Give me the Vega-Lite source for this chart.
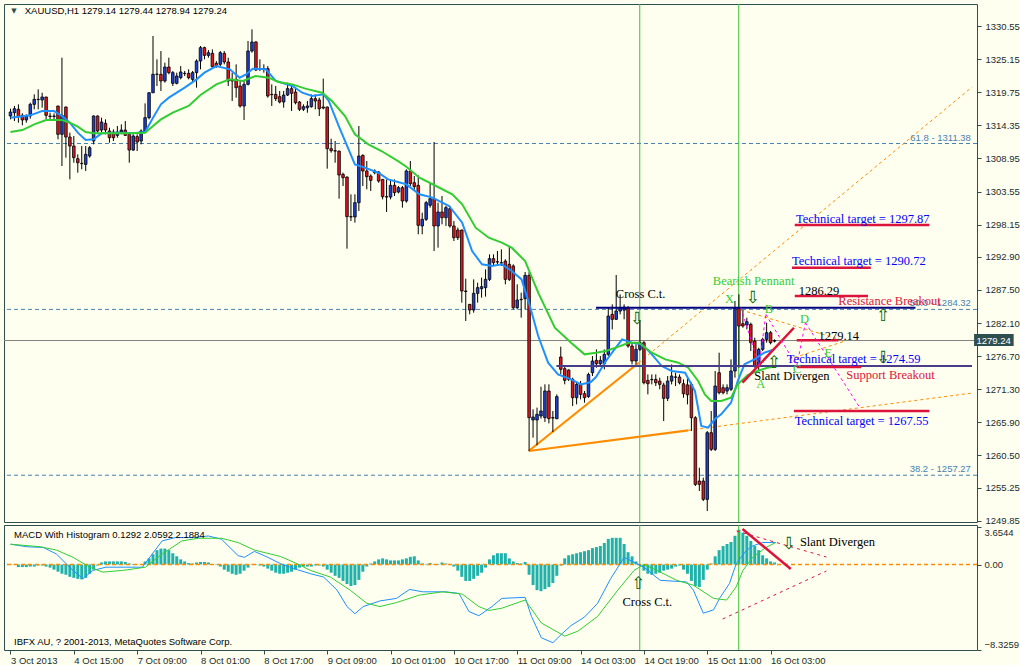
{
"$schema":"https://vega.github.io/schema/vega-lite/v6.json",
"background":"#FFFFF0",
"padding":{"left":2,"top":3,"right":0,"bottom":0},
"bounds":"flush",
"spacing":3,
"config":{"view":{"stroke":"#2F4F4F","strokeWidth":1},"axis":{"labelFont":"Liberation Sans","labelFontSize":9.5,"labelColor":"#1B2B2B","tickColor":"#2F4F4F","tickSize":4,"domain":false,"grid":false,"title":null,"labelPadding":4,"labelOverlap":false}},
"datasets":{
"candles":[
{"i":0,"o":1315.87,"h":1317.06,"l":1315.32,"c":1316.52},{"i":1,"o":1316.41,"h":1317.5,"l":1315.05,"c":1317.06},{"i":2,"o":1316.96,"h":1317.77,"l":1314.78,"c":1315.76},{"i":3,"o":1315.98,"h":1316.3,"l":1314.35,"c":1315.22},{"i":4,"o":1315.22,"h":1316.14,"l":1314.78,"c":1315.87},{"i":5,"o":1315.87,"h":1318.04,"l":1315.43,"c":1317.77},{"i":6,"o":1317.77,"h":1319.4,"l":1316.96,"c":1318.59},{"i":7,"o":1318.59,"h":1320.22,"l":1316.96,"c":1318.55},{"i":8,"o":1318.48,"h":1319.67,"l":1317.23,"c":1318.97},{"i":9,"o":1318.97,"h":1319.0,"l":1315.32,"c":1315.98},
{"i":10,"o":1315.87,"h":1316.41,"l":1315.32,"c":1315.8},{"i":11,"o":1315.8,"h":1316.3,"l":1315.05,"c":1315.87},{"i":12,"o":1317.5,"h":1317.55,"l":1312.06,"c":1312.88},{"i":13,"o":1312.88,"h":1325.38,"l":1307.71,"c":1315.98},{"i":14,"o":1317.34,"h":1317.4,"l":1309.07,"c":1312.44},{"i":15,"o":1312.44,"h":1313.15,"l":1305.54,"c":1310.97},{"i":16,"o":1310.97,"h":1312.61,"l":1308.25,"c":1309.07},{"i":17,"o":1308.91,"h":1309.61,"l":1306.62,"c":1308.25},{"i":18,"o":1308.15,"h":1310.97,"l":1307.17,"c":1308.1},{"i":19,"o":1307.98,"h":1310.97,"l":1306.9,"c":1309.61},
{"i":20,"o":1309.34,"h":1310.97,"l":1309.07,"c":1310.7},{"i":21,"o":1311.79,"h":1315.98,"l":1311.25,"c":1315.87},{"i":22,"o":1315.87,"h":1315.95,"l":1313.15,"c":1313.42},{"i":23,"o":1313.58,"h":1315.6,"l":1313.15,"c":1314.89},{"i":24,"o":1314.67,"h":1315.32,"l":1312.88,"c":1313.58},{"i":25,"o":1313.42,"h":1313.96,"l":1311.52,"c":1312.33},{"i":26,"o":1313.26,"h":1313.69,"l":1311.79,"c":1312.33},{"i":27,"o":1312.71,"h":1314.24,"l":1312.33,"c":1313.26},{"i":28,"o":1313.26,"h":1314.51,"l":1312.88,"c":1313.58},{"i":29,"o":1313.58,"h":1315.05,"l":1312.61,"c":1312.71},
{"i":30,"o":1312.88,"h":1313.26,"l":1308.25,"c":1310.32},{"i":31,"o":1310.32,"h":1312.88,"l":1310.16,"c":1312.61},{"i":32,"o":1312.5,"h":1312.88,"l":1310.16,"c":1311.63},{"i":33,"o":1311.79,"h":1313.69,"l":1311.25,"c":1313.42},{"i":34,"o":1313.26,"h":1317.93,"l":1313.15,"c":1315.6},{"i":35,"o":1315.6,"h":1319.7,"l":1315.32,"c":1319.67},{"i":36,"o":1319.67,"h":1328.92,"l":1319.6,"c":1322.67},{"i":37,"o":1322.67,"h":1325.11,"l":1320.76,"c":1322.7},{"i":38,"o":1322.67,"h":1326.47,"l":1319.95,"c":1321.58},{"i":39,"o":1321.58,"h":1324.57,"l":1321.31,"c":1323.86},
{"i":40,"o":1323.86,"h":1325.38,"l":1322.67,"c":1322.94},{"i":41,"o":1321.2,"h":1323.21,"l":1320.76,"c":1322.94},{"i":42,"o":1321.2,"h":1322.94,"l":1321.03,"c":1322.39},{"i":43,"o":1322.12,"h":1324.02,"l":1321.85,"c":1323.05},{"i":44,"o":1322.83,"h":1323.21,"l":1322.39,"c":1322.8},{"i":45,"o":1322.83,"h":1323.48,"l":1321.85,"c":1322.12},{"i":46,"o":1321.85,"h":1323.21,"l":1321.31,"c":1322.94},{"i":47,"o":1322.94,"h":1325.11,"l":1320.49,"c":1324.84},{"i":48,"o":1324.84,"h":1327.29,"l":1323.48,"c":1327.02},{"i":49,"o":1327.02,"h":1327.18,"l":1325.11,"c":1325.76},
{"i":50,"o":1325.76,"h":1326.63,"l":1325.38,"c":1326.2},{"i":51,"o":1326.09,"h":1326.74,"l":1323.75,"c":1323.92},{"i":52,"o":1324.46,"h":1324.84,"l":1323.75,"c":1323.92},{"i":53,"o":1324.3,"h":1326.47,"l":1324.02,"c":1326.2},{"i":54,"o":1326.09,"h":1326.47,"l":1324.3,"c":1324.68},{"i":55,"o":1324.68,"h":1325.38,"l":1320.76,"c":1321.58},{"i":56,"o":1321.85,"h":1322.94,"l":1318.32,"c":1321.58},{"i":57,"o":1321.85,"h":1324.3,"l":1318.86,"c":1320.49},{"i":58,"o":1320.76,"h":1321.58,"l":1317.23,"c":1317.5},{"i":59,"o":1317.5,"h":1321.58,"l":1315.22,"c":1321.03},
{"i":60,"o":1321.03,"h":1328.1,"l":1320.87,"c":1326.47},{"i":61,"o":1326.47,"h":1330.01,"l":1326.2,"c":1327.94},{"i":62,"o":1327.94,"h":1328.1,"l":1323.21,"c":1323.37},{"i":63,"o":1323.48,"h":1325.11,"l":1323.21,"c":1323.45},{"i":64,"o":1323.59,"h":1324.3,"l":1322.94,"c":1323.55},{"i":65,"o":1323.59,"h":1324.02,"l":1318.86,"c":1319.13},{"i":66,"o":1319.4,"h":1321.03,"l":1317.5,"c":1319.35},{"i":67,"o":1319.4,"h":1320.76,"l":1318.32,"c":1318.7},{"i":68,"o":1319.02,"h":1319.95,"l":1317.93,"c":1318.15},{"i":69,"o":1318.15,"h":1319.95,"l":1317.23,"c":1319.29},
{"i":70,"o":1319.29,"h":1321.31,"l":1319.13,"c":1320.33},{"i":71,"o":1320.33,"h":1320.76,"l":1316.68,"c":1319.57},{"i":72,"o":1319.78,"h":1320.49,"l":1317.77,"c":1318.04},{"i":73,"o":1318.15,"h":1318.32,"l":1316.68,"c":1316.96},{"i":74,"o":1316.96,"h":1317.77,"l":1316.68,"c":1317.39},{"i":75,"o":1317.23,"h":1318.32,"l":1316.41,"c":1317.5},{"i":76,"o":1317.39,"h":1319.4,"l":1317.23,"c":1318.7},{"i":77,"o":1318.7,"h":1319.4,"l":1316.96,"c":1318.32},{"i":78,"o":1318.48,"h":1318.86,"l":1315.87,"c":1317.06},{"i":79,"o":1317.34,"h":1321.96,"l":1316.96,"c":1317.17},
{"i":80,"o":1317.34,"h":1317.4,"l":1307.28,"c":1310.54},{"i":81,"o":1310.54,"h":1312.17,"l":1309.89,"c":1310.21},{"i":82,"o":1310.21,"h":1311.79,"l":1308.25,"c":1310.15},{"i":83,"o":1310.15,"h":1310.21,"l":1302.38,"c":1306.24},{"i":84,"o":1306.35,"h":1306.62,"l":1304.45,"c":1305.81},{"i":85,"o":1305.92,"h":1306.0,"l":1294.23,"c":1299.45},{"i":86,"o":1299.45,"h":1303.09,"l":1298.74,"c":1299.4},{"i":87,"o":1299.4,"h":1303.09,"l":1298.47,"c":1301.73},{"i":88,"o":1301.73,"h":1314.24,"l":1300.37,"c":1309.34},{"i":89,"o":1309.45,"h":1309.61,"l":1304.45,"c":1306.9},
{"i":90,"o":1306.9,"h":1308.53,"l":1303.91,"c":1305.97},{"i":91,"o":1306.08,"h":1306.35,"l":1303.63,"c":1305.37},{"i":92,"o":1306.62,"h":1307.17,"l":1306.35,"c":1306.9},{"i":93,"o":1306.73,"h":1306.9,"l":1304.99,"c":1305.26},{"i":94,"o":1305.53,"h":1305.6,"l":1302.27,"c":1302.71},{"i":95,"o":1302.71,"h":1305.53,"l":1300.21,"c":1302.65},{"i":96,"o":1302.65,"h":1305.53,"l":1302.27,"c":1304.56},{"i":97,"o":1304.56,"h":1305.53,"l":1302.82,"c":1303.36},{"i":98,"o":1303.47,"h":1304.45,"l":1303.25,"c":1304.18},{"i":99,"o":1304.18,"h":1304.45,"l":1300.92,"c":1302.0},
{"i":100,"o":1302.0,"h":1307.17,"l":1301.73,"c":1306.9},{"i":101,"o":1306.9,"h":1308.53,"l":1304.45,"c":1304.83},{"i":102,"o":1304.99,"h":1306.08,"l":1303.64,"c":1304.34},{"i":103,"o":1304.56,"h":1306.19,"l":1296.57,"c":1298.04},{"i":104,"o":1297.93,"h":1300.1,"l":1296.57,"c":1299.01},{"i":105,"o":1299.01,"h":1302.0,"l":1298.74,"c":1301.73},{"i":106,"o":1301.3,"h":1305.0,"l":1300.92,"c":1302.38},{"i":107,"o":1302.38,"h":1311.63,"l":1293.85,"c":1297.93},{"i":108,"o":1297.93,"h":1301.73,"l":1294.39,"c":1300.21},{"i":109,"o":1300.21,"h":1302.82,"l":1298.2,"c":1299.28},
{"i":110,"o":1299.28,"h":1301.19,"l":1297.93,"c":1300.92},{"i":111,"o":1300.75,"h":1301.19,"l":1297.66,"c":1297.93},{"i":112,"o":1297.93,"h":1298.74,"l":1295.48,"c":1296.02},{"i":113,"o":1297.27,"h":1297.66,"l":1295.64,"c":1296.02},{"i":114,"o":1297.27,"h":1297.35,"l":1285.42,"c":1287.32},{"i":115,"o":1287.32,"h":1289.33,"l":1282.43,"c":1287.25},{"i":116,"o":1285.15,"h":1285.2,"l":1283.51,"c":1284.22},{"i":117,"o":1284.22,"h":1289.22,"l":1283.78,"c":1286.94},{"i":118,"o":1286.94,"h":1288.68,"l":1285.42,"c":1287.87},{"i":119,"o":1287.7,"h":1289.5,"l":1286.24,"c":1288.03},
{"i":120,"o":1287.87,"h":1290.85,"l":1286.4,"c":1289.22},{"i":121,"o":1289.22,"h":1293.3,"l":1288.95,"c":1292.6},{"i":122,"o":1292.6,"h":1293.3,"l":1291.4,"c":1291.94},{"i":123,"o":1292.1,"h":1293.85,"l":1291.67,"c":1292.05},{"i":124,"o":1291.94,"h":1294.12,"l":1291.4,"c":1291.9},{"i":125,"o":1292.2,"h":1292.5,"l":1288.41,"c":1289.22},{"i":126,"o":1291.67,"h":1294.67,"l":1288.95,"c":1289.22},{"i":127,"o":1291.4,"h":1291.67,"l":1284.33,"c":1284.6},{"i":128,"o":1284.6,"h":1288.41,"l":1284.33,"c":1285.85},{"i":129,"o":1285.96,"h":1287.05,"l":1282.97,"c":1285.9},
{"i":130,"o":1286.07,"h":1290.42,"l":1284.33,"c":1289.88},{"i":131,"o":1289.88,"h":1290.42,"l":1261.22,"c":1266.66},{"i":132,"o":1266.28,"h":1268.02,"l":1263.4,"c":1266.77},{"i":133,"o":1266.28,"h":1268.3,"l":1262.15,"c":1267.2},{"i":134,"o":1266.93,"h":1271.72,"l":1266.5,"c":1267.75},{"i":135,"o":1266.66,"h":1272.1,"l":1265.95,"c":1271.01},{"i":136,"o":1271.01,"h":1272.1,"l":1265.73,"c":1266.5},{"i":137,"o":1266.66,"h":1267.75,"l":1264.32,"c":1266.6},{"i":138,"o":1266.5,"h":1270.46,"l":1266.4,"c":1270.09},{"i":139,"o":1276.56,"h":1278.24,"l":1273.73,"c":1274.55},
{"i":140,"o":1274.65,"h":1275.09,"l":1272.1,"c":1272.75},{"i":141,"o":1274.43,"h":1274.54,"l":1272.64,"c":1272.91},{"i":142,"o":1272.91,"h":1273.18,"l":1268.56,"c":1269.92},{"i":143,"o":1269.92,"h":1272.37,"l":1268.83,"c":1272.1},{"i":144,"o":1272.1,"h":1272.64,"l":1269.65,"c":1270.46},{"i":145,"o":1270.57,"h":1271.01,"l":1269.1,"c":1269.92},{"i":146,"o":1270.1,"h":1274.0,"l":1269.9,"c":1273.7},{"i":147,"o":1273.99,"h":1276.71,"l":1273.45,"c":1275.9},{"i":148,"o":1276.01,"h":1277.8,"l":1274.81,"c":1275.46},{"i":149,"o":1275.46,"h":1276.71,"l":1275.08,"c":1276.01},
{"i":150,"o":1275.46,"h":1277.8,"l":1274.54,"c":1276.99},{"i":151,"o":1276.99,"h":1284.6,"l":1276.71,"c":1283.24},{"i":152,"o":1283.51,"h":1285.14,"l":1281.06,"c":1282.7},{"i":153,"o":1282.7,"h":1289.93,"l":1282.6,"c":1284.05},{"i":154,"o":1284.05,"h":1286.77,"l":1283.51,"c":1284.6},{"i":155,"o":1284.2,"h":1285.14,"l":1282.7,"c":1284.7},{"i":156,"o":1284.6,"h":1284.87,"l":1278.07,"c":1278.35},{"i":157,"o":1278.35,"h":1278.89,"l":1275.35,"c":1275.9},{"i":158,"o":1275.9,"h":1278.62,"l":1275.35,"c":1277.8},{"i":159,"o":1277.8,"h":1282.42,"l":1277.53,"c":1278.89},
{"i":160,"o":1278.89,"h":1279.16,"l":1272.09,"c":1272.36},{"i":161,"o":1272.74,"h":1273.72,"l":1270.46,"c":1272.2},{"i":162,"o":1272.9,"h":1273.72,"l":1272.09,"c":1272.85},{"i":163,"o":1272.9,"h":1273.72,"l":1271.82,"c":1272.36},{"i":164,"o":1272.63,"h":1273.18,"l":1271.28,"c":1272.09},{"i":165,"o":1271.98,"h":1272.36,"l":1266.11,"c":1269.81},{"i":166,"o":1269.81,"h":1273.45,"l":1269.37,"c":1272.63},{"i":167,"o":1272.63,"h":1275.35,"l":1272.09,"c":1273.45},{"i":168,"o":1273.3,"h":1274.0,"l":1271.82,"c":1273.25},{"i":169,"o":1273.29,"h":1273.72,"l":1272.09,"c":1272.36},
{"i":170,"o":1272.2,"h":1272.9,"l":1269.92,"c":1270.57},{"i":171,"o":1272.0,"h":1273.18,"l":1268.83,"c":1270.4},{"i":172,"o":1272.09,"h":1272.4,"l":1264.48,"c":1266.65},{"i":173,"o":1266.65,"h":1266.9,"l":1255.51,"c":1255.78},{"i":174,"o":1256.32,"h":1258.5,"l":1254.69,"c":1255.78},{"i":175,"o":1256.32,"h":1256.87,"l":1253.06,"c":1253.33},{"i":176,"o":1253.33,"h":1264.48,"l":1251.43,"c":1264.21},{"i":177,"o":1264.21,"h":1267.74,"l":1261.22,"c":1261.49},{"i":178,"o":1261.49,"h":1274.27,"l":1261.22,"c":1271.82},{"i":179,"o":1273.99,"h":1277.26,"l":1270.46,"c":1270.73},
{"i":180,"o":1271.55,"h":1272.09,"l":1270.46,"c":1270.73},{"i":181,"o":1271.0,"h":1272.09,"l":1270.46,"c":1271.55},{"i":182,"o":1271.28,"h":1276.17,"l":1271.0,"c":1274.27},{"i":183,"o":1274.27,"h":1285.69,"l":1273.18,"c":1284.49},{"i":184,"o":1284.49,"h":1286.77,"l":1274.81,"c":1281.61},{"i":185,"o":1281.99,"h":1284.16,"l":1281.34,"c":1281.61},{"i":186,"o":1281.77,"h":1282.97,"l":1281.07,"c":1282.31},{"i":187,"o":1281.88,"h":1282.16,"l":1277.53,"c":1278.89},{"i":188,"o":1279.16,"h":1279.7,"l":1274.81,"c":1275.08},{"i":189,"o":1275.08,"h":1278.07,"l":1274.27,"c":1277.8},
{"i":190,"o":1277.8,"h":1279.7,"l":1277.53,"c":1279.43},{"i":191,"o":1279.43,"h":1282.15,"l":1278.89,"c":1280.52},{"i":192,"o":1280.52,"h":1280.8,"l":1278.62,"c":1278.89},{"i":193,"o":1279.14,"h":1279.44,"l":1278.94,"c":1279.24}
],
"fast":[{"i":0,"p":1315.6},{"i":5,"p":1315.98},{"i":8,"p":1316.68},{"i":11,"p":1316.68},{"i":13,"p":1315.87},{"i":15,"p":1314.78},{"i":17,"p":1313.15},{"i":19,"p":1311.95},{"i":21,"p":1312.06},{"i":23,"p":1313.04},{"i":27,"p":1313.15},{"i":31,"p":1313.04},{"i":34,"p":1313.26},{"i":36,"p":1315.6},{"i":38,"p":1317.77},{"i":40,"p":1318.86},{"i":44,"p":1320.49},{"i":47,"p":1321.85},{"i":49,"p":1322.94},{"i":52,"p":1324.02},{"i":55.4,"p":1323.48},{"i":57.9,"p":1322.12},{"i":59.5,"p":1322.67},{"i":61.2,"p":1323.59},{"i":64.5,"p":1323.48},{"i":67,"p":1321.58},{"i":71.2,"p":1320.76},{"i":73.7,"p":1319.67},{"i":76.2,"p":1319.13},{"i":79.1,"p":1319.4},{"i":80.4,"p":1318.32},{"i":82.9,"p":1314.24},{"i":85.4,"p":1310.43},{"i":87,"p":1307.98},{"i":89.5,"p":1307.44},{"i":92.9,"p":1306.62},{"i":95.4,"p":1305.53},{"i":97.9,"p":1305.1},{"i":100,"p":1304.72},{"i":103.3,"p":1303.09},{"i":106.6,"p":1302.55},{"i":110.8,"p":1301.19},{"i":114.1,"p":1298.47},{"i":116.6,"p":1293.85},{"i":119.1,"p":1291.67},{"i":121.6,"p":1291.4},{"i":124.1,"p":1291.67},{"i":126.6,"p":1290.58},{"i":129.1,"p":1289.22},{"i":131.2,"p":1284.87},{"i":133.3,"p":1279.98},{"i":135.8,"p":1275.63},{"i":138.3,"p":1273.73},{"i":141.6,"p":1272.91},{"i":144.1,"p":1272.09},{"i":146.6,"p":1272.48},{"i":147.9,"p":1273.29},{"i":150.4,"p":1275.9},{"i":152.9,"p":1278.08},{"i":154.5,"p":1279.43},{"i":157,"p":1278.89},{"i":159.5,"p":1278.62},{"i":162,"p":1276.99},{"i":164.5,"p":1275.08},{"i":167,"p":1274.27},{"i":170.4,"p":1273.99},{"i":172.9,"p":1271.01},{"i":174.5,"p":1265.3},{"i":176.2,"p":1265.03},{"i":177.9,"p":1266.39},{"i":179.5,"p":1267.2},{"i":182,"p":1269.1},{"i":183.7,"p":1272.64},{"i":185.4,"p":1275.36},{"i":187.9,"p":1276.17},{"i":190.4,"p":1277.26},{"i":192.9,"p":1277.8}],
"slow":[{"i":0,"p":1313.26},{"i":3,"p":1313.58},{"i":6,"p":1314.51},{"i":9,"p":1315.22},{"i":13,"p":1315.22},{"i":15,"p":1314.78},{"i":17,"p":1314.13},{"i":19,"p":1313.26},{"i":21,"p":1313.04},{"i":25,"p":1313.04},{"i":30,"p":1313.04},{"i":34,"p":1313.15},{"i":36,"p":1314.24},{"i":38,"p":1315.32},{"i":41,"p":1316.41},{"i":45,"p":1317.5},{"i":48,"p":1319.3},{"i":52,"p":1321.03},{"i":55.4,"p":1321.85},{"i":58.7,"p":1321.58},{"i":61.9,"p":1322.39},{"i":65.2,"p":1322.12},{"i":67.7,"p":1321.41},{"i":71.2,"p":1321.03},{"i":74.5,"p":1320.33},{"i":78.7,"p":1319.67},{"i":81.2,"p":1318.32},{"i":84.5,"p":1315.87},{"i":87,"p":1312.88},{"i":90.4,"p":1311.25},{"i":93.7,"p":1310.16},{"i":97.9,"p":1308.5},{"i":100,"p":1307.6},{"i":103.3,"p":1305.81},{"i":107.5,"p":1304.45},{"i":111.6,"p":1303.09},{"i":114.1,"p":1301.46},{"i":117.5,"p":1297.65},{"i":120.8,"p":1296.02},{"i":124.1,"p":1295.21},{"i":126.6,"p":1294.39},{"i":130,"p":1292.21},{"i":133.3,"p":1287.05},{"i":137.5,"p":1281.34},{"i":141.6,"p":1278.89},{"i":145,"p":1276.99},{"i":147.9,"p":1277.26},{"i":150.4,"p":1277.53},{"i":152.9,"p":1278.08},{"i":156.2,"p":1278.89},{"i":158.7,"p":1278.89},{"i":162,"p":1277.26},{"i":165.4,"p":1276.17},{"i":168.7,"p":1275.63},{"i":171.2,"p":1274.81},{"i":173.7,"p":1272.64},{"i":175.4,"p":1270.46},{"i":177,"p":1269.38},{"i":179.5,"p":1269.38},{"i":182,"p":1269.92},{"i":183.7,"p":1272.09},{"i":186.2,"p":1273.62},{"i":188.7,"p":1274.27},{"i":191.2,"p":1274.81},{"i":193.7,"p":1275.08}],
"fib":[{"p":1311.38,"t":"61.8 - 1311.38"},{"p":1284.32,"t":"50.0 - 1284.32"},{"p":1257.27,"t":"38.2 - 1257.27"}],
"vlines":[{"i":158.95},{"i":183.95}],
"orangeSolid":[{"i":130.9,"p":1261.22,"i2":158.7,"p2":1275.62},{"i":130.9,"p":1261.22,"i2":171.2,"p2":1264.6}],
"orangeDash":[{"i":158.7,"p":1275.62,"i2":242.9,"p2":1320.6},{"i":171.2,"p":1264.6,"i2":242.9,"p2":1270.68},{"i":184.6,"p":1284.22,"i2":210.8,"p2":1279.16},{"i":196.6,"p":1276.18,"i2":210.8,"p2":1279.16}],
"navy":[{"i":147.9,"i2":228.6,"p":1284.6}],
"slate":[{"i":137.9,"i2":242.875,"p":1275.1}],
"redUnder":[{"i":198.1,"i2":232.1,"p":1298.09},{"i":197.4,"i2":217.3,"p":1291.12},{"i":198.1,"i2":216.6,"p":1286.5},{"i":198.6,"i2":209.1,"p":1279.28},{"i":198.6,"i2":214.9,"p":1274.92},{"i":197.9,"i2":232.1,"p":1267.75}],
"redThick":[{"i":184.9,"p":1272.36,"i2":197.9,"p2":1281.33}],
"magenta":[{"i":184.5,"p":1284.6,"i2":189.1,"p2":1275.09},{"i":189.1,"p":1275.09,"i2":190.8,"p2":1283.52},{"i":190.8,"p":1283.52,"i2":198.6,"p2":1275.09},{"i":198.6,"p":1275.09,"i2":200.8,"p2":1282.15},{"i":200.8,"p":1282.15,"i2":214.55,"p2":1268.28}],
"blackText":[{"i":152.9,"p":1286.83,"t":"Cross C.t."},{"i":199.1,"p":1287.32,"t":"1286.29"},{"i":204.1,"p":1280.0,"t":"1279.14"},{"i":187.9,"p":1273.45,"t":"Slant Divergen"}],
"blueText":[{"i":198.4,"p":1299.07,"t":"Technical target = 1297.87"},{"i":197.4,"p":1292.21,"t":"Technical target = 1290.72"},{"i":196.1,"p":1276.28,"t":"Technical target = 1274.59"},{"i":198.1,"p":1266.11,"t":"Technical target = 1267.55"}],
"redText":[{"i":209.1,"p":1285.69,"t":"Resistance Breakout"},{"i":211.1,"p":1273.62,"t":"Support Breakout"}],
"greenText":[{"i":177.4,"p":1288.95,"t":"Bearish  Pennant"}],
"letters":[{"i":181.6,"p":1286.06,"t":"X"},{"i":189.5,"p":1272.2,"t":"A"},{"i":191.6,"p":1284.33,"t":"B"},{"i":198.7,"p":1274.55,"t":"C"},{"i":200.6,"p":1282.7,"t":"D"},{"i":206.6,"p":1277.26,"t":"E"}],
"arrowsDown":[{"i":158.3,"p":1282.7},{"i":187.5,"p":1286.23},{"i":220.4,"p":1276.44}],
"arrowsUp":[{"i":220.4,"p":1283.24},{"i":192.9,"p":1275.62}],
"hist":[{"i":0,"v":-0.05},{"i":1,"v":-0.05},{"i":2,"v":-0.25},{"i":3,"v":-0.25},{"i":4,"v":-0.25},{"i":5,"v":-0.2},{"i":6,"v":-0.2},{"i":7,"v":-0.1},{"i":8,"v":-0.1},{"i":9,"v":-0.2},{"i":10,"v":-0.3},{"i":11,"v":-0.5},{"i":12,"v":-0.7},{"i":13,"v":-0.9},{"i":14,"v":-1.0},{"i":15,"v":-1.2},{"i":16,"v":-1.3},{"i":17,"v":-1.4},{"i":18,"v":-1.45},{"i":19,"v":-1.3},{"i":20,"v":-0.9},{"i":21,"v":-0.5},{"i":22,"v":-0.1},{"i":23,"v":0.2},{"i":24,"v":0.3},{"i":25,"v":0.3},{"i":26,"v":0.3},{"i":27,"v":0.3},{"i":28,"v":0.3},{"i":29,"v":0.25},{"i":30,"v":0.1},{"i":31,"v":0.05},{"i":32,"v":0.05},{"i":33,"v":0.05},{"i":34,"v":0.3},{"i":35,"v":0.6},{"i":36,"v":1.0},{"i":37,"v":1.4},{"i":38,"v":1.55},{"i":39,"v":1.55},{"i":40,"v":1.4},{"i":41,"v":1.1},{"i":42,"v":0.8},{"i":43,"v":0.5},{"i":44,"v":0.3},{"i":45,"v":0.15},{"i":46,"v":0.1},{"i":47,"v":0.2},{"i":48,"v":0.25},{"i":49,"v":0.25},{"i":50,"v":0.2},{"i":51,"v":0.05},{"i":52,"v":-0.05},{"i":53,"v":-0.2},{"i":54,"v":-0.5},{"i":55,"v":-0.7},{"i":56,"v":-0.9},{"i":57,"v":-1.0},{"i":58,"v":-0.9},{"i":59,"v":-0.6},{"i":60,"v":-0.3},{"i":61,"v":-0.05},{"i":62,"v":0.05},{"i":63,"v":-0.1},{"i":64,"v":-0.2},{"i":65,"v":-0.4},{"i":66,"v":-0.6},{"i":67,"v":-0.8},{"i":68,"v":-0.9},{"i":69,"v":-0.9},{"i":70,"v":-0.8},{"i":71,"v":-0.7},{"i":72,"v":-0.5},{"i":73,"v":-0.3},{"i":74,"v":-0.2},{"i":75,"v":-0.2},{"i":76,"v":-0.2},{"i":77,"v":-0.1},{"i":78,"v":-0.1},{"i":79,"v":-0.2},{"i":80,"v":-0.5},{"i":81,"v":-0.8},{"i":82,"v":-1.1},{"i":83,"v":-1.3},{"i":84,"v":-1.6},{"i":85,"v":-1.9},{"i":86,"v":-2.1},{"i":87,"v":-2.0},{"i":88,"v":-1.5},{"i":89,"v":-0.7},{"i":90,"v":-0.2},{"i":91,"v":0.1},{"i":92,"v":0.3},{"i":93,"v":0.5},{"i":94,"v":0.6},{"i":95,"v":0.5},{"i":96,"v":0.4},{"i":97,"v":0.4},{"i":98,"v":0.4},{"i":99,"v":0.5},{"i":100,"v":0.6},{"i":101,"v":0.75},{"i":102,"v":0.8},{"i":103,"v":0.4},{"i":104,"v":0.1},{"i":105,"v":0.05},{"i":106,"v":0.15},{"i":107,"v":0.05},{"i":108,"v":0.05},{"i":109,"v":0.2},{"i":110,"v":0.1},{"i":111,"v":0.05},{"i":112,"v":-0.2},{"i":113,"v":-0.6},{"i":114,"v":-1.2},{"i":115,"v":-1.6},{"i":116,"v":-1.6},{"i":117,"v":-1.4},{"i":118,"v":-1.1},{"i":119,"v":-0.8},{"i":120,"v":-0.3},{"i":121,"v":0.5},{"i":122,"v":0.9},{"i":123,"v":1.1},{"i":124,"v":1.1},{"i":125,"v":1.1},{"i":126,"v":0.6},{"i":127,"v":0.3},{"i":128,"v":0.15},{"i":129,"v":0.1},{"i":130,"v":0.25},{"i":131,"v":-1.0},{"i":132,"v":-2.0},{"i":133,"v":-2.5},{"i":134,"v":-2.6},{"i":135,"v":-2.4},{"i":136,"v":-2.2},{"i":137,"v":-1.8},{"i":138,"v":-1.1},{"i":139,"v":-0.1},{"i":140,"v":0.6},{"i":141,"v":0.9},{"i":142,"v":1.0},{"i":143,"v":1.1},{"i":144,"v":1.2},{"i":145,"v":1.3},{"i":146,"v":1.4},{"i":147,"v":1.6},{"i":148,"v":1.7},{"i":149,"v":1.8},{"i":150,"v":2.1},{"i":151,"v":2.5},{"i":152,"v":2.6},{"i":153,"v":2.6},{"i":154,"v":2.6},{"i":155,"v":2.0},{"i":156,"v":1.2},{"i":157,"v":0.8},{"i":158,"v":0.3},{"i":159,"v":-0.1},{"i":160,"v":-0.6},{"i":161,"v":-0.9},{"i":162,"v":-1.0},{"i":163,"v":-0.9},{"i":164,"v":-0.8},{"i":165,"v":-0.6},{"i":166,"v":-0.5},{"i":167,"v":-0.4},{"i":168,"v":-0.2},{"i":169,"v":-0.1},{"i":170,"v":-0.5},{"i":171,"v":-0.9},{"i":172,"v":-1.6},{"i":173,"v":-2.1},{"i":174,"v":-2.2},{"i":175,"v":-1.5},{"i":176,"v":-0.5},{"i":177,"v":0.1},{"i":178,"v":0.8},{"i":179,"v":1.4},{"i":180,"v":1.8},{"i":181,"v":2.0},{"i":182,"v":2.2},{"i":183,"v":2.8},{"i":184,"v":3.4},{"i":185,"v":3.1},{"i":186,"v":2.8},{"i":187,"v":2.3},{"i":188,"v":1.8},{"i":189,"v":1.4},{"i":190,"v":0.9},{"i":191,"v":0.6},{"i":192,"v":0.3},{"i":193,"v":0.2}],
"macd":[{"i":0,"v":1.98},{"i":4.1,"v":1.73},{"i":8.3,"v":1.66},{"i":11.6,"v":1.02},{"i":15.8,"v":-0.58},{"i":18.3,"v":-1.38},{"i":20.8,"v":-0.58},{"i":24.1,"v":-0.26},{"i":29.1,"v":-0.26},{"i":33.3,"v":-0.26},{"i":35.8,"v":1.02},{"i":38.3,"v":2.3},{"i":41.6,"v":2.62},{"i":45.8,"v":2.62},{"i":50,"v":2.78},{"i":53.3,"v":2.46},{"i":57.5,"v":0.86},{"i":59.1,"v":0.7},{"i":61.6,"v":1.28},{"i":65,"v":0.7},{"i":68.3,"v":0.06},{"i":72.5,"v":-0.51},{"i":75.8,"v":-0.9},{"i":79.1,"v":-1.22},{"i":82.5,"v":-2.5},{"i":85,"v":-4.1},{"i":87,"v":-4.8},{"i":89.1,"v":-4.1},{"i":93.3,"v":-3.55},{"i":97.5,"v":-3.3},{"i":100.8,"v":-2.43},{"i":104.1,"v":-2.66},{"i":110,"v":-2.66},{"i":113.3,"v":-2.82},{"i":115.8,"v":-4.58},{"i":118.3,"v":-4.99},{"i":121.6,"v":-4.1},{"i":124.1,"v":-3.3},{"i":130,"v":-3.2},{"i":131.6,"v":-5.06},{"i":134.1,"v":-7.14},{"i":137,"v":-7.62},{"i":139.1,"v":-6.82},{"i":141.6,"v":-5.95},{"i":145,"v":-5.12},{"i":148.3,"v":-3.78},{"i":151.6,"v":-1.38},{"i":155,"v":0.7},{"i":157.5,"v":0.22},{"i":160,"v":-0.26},{"i":164.1,"v":-1.54},{"i":170.8,"v":-1.7},{"i":172.5,"v":-2.5},{"i":175,"v":-4.74},{"i":177.6,"v":-4.42},{"i":179.1,"v":-3.3},{"i":181.6,"v":-1.86},{"i":183.3,"v":0.06},{"i":185.8,"v":1.34},{"i":187.5,"v":1.82},{"i":190,"v":2.14},{"i":193.3,"v":2.14}],
"signal":[{"i":0,"v":1.98},{"i":7.5,"v":1.73},{"i":11.6,"v":1.41},{"i":15.8,"v":0.7},{"i":20,"v":-0.26},{"i":23.3,"v":-0.74},{"i":28.3,"v":-0.58},{"i":34.1,"v":-0.26},{"i":38.3,"v":1.02},{"i":43.3,"v":2.3},{"i":47.5,"v":2.56},{"i":53.3,"v":2.56},{"i":57.5,"v":2.14},{"i":61.6,"v":1.41},{"i":68.3,"v":0.77},{"i":72.5,"v":0.06},{"i":75.8,"v":-0.58},{"i":80.8,"v":-1.22},{"i":85.8,"v":-2.5},{"i":90,"v":-3.78},{"i":93.3,"v":-4.1},{"i":97.5,"v":-3.71},{"i":103.3,"v":-2.98},{"i":109.1,"v":-2.66},{"i":114.1,"v":-2.88},{"i":118.3,"v":-4.1},{"i":120.8,"v":-4.48},{"i":124.1,"v":-4.26},{"i":130,"v":-3.46},{"i":134.1,"v":-5.7},{"i":140,"v":-6.98},{"i":143.3,"v":-6.5},{"i":148.3,"v":-5.06},{"i":153.4,"v":-2.5},{"i":157.5,"v":-0.58},{"i":160,"v":0.0},{"i":163.3,"v":-0.58},{"i":168.3,"v":-1.54},{"i":172.5,"v":-2.02},{"i":177.6,"v":-3.3},{"i":180.9,"v":-3.46},{"i":183.3,"v":-2.18},{"i":185,"v":-0.58},{"i":187.5,"v":0.7},{"i":190.8,"v":1.66},{"i":193.3,"v":2.14}],
"mRedDash":[{"i":183.4,"v":3.27,"i2":206.1,"v2":0.73},{"i":179.9,"v":-5.31,"i2":206.1,"v2":-0.63}],
"mRedThick":[{"i":184.9,"v":3.46,"i2":197.1,"v2":-0.44}],
"mText":[{"i":154.6,"v":-3.65,"t":"Cross C.t."},{"i":199.4,"v":2.19,"t":"Slant Divergen"}],
"mInfo":[{"i":0.9,"v":2.88,"t":"MACD With Histogram 0.1292 2.0592 2.1884"},{"i":0.9,"v":-7.55,"t":"IBFX AU, ? 2001-2013, MetaQuotes Software Corp."}],
"mDown":[{"i":196.6,"v":2.0}],
"mUp":[{"i":158.6,"v":-1.9}]
},
"vconcat":[
{"width":973,"height":518,
"layer":[
{"data":{"name":"fib"},"mark":{"type":"rule","color":"#4682B4","strokeDash":[4,3],"strokeWidth":1},
 "encoding":{"y":{"field":"p","type":"quantitative","scale":{"domain":[1249.64,1334.14],"nice":false,"zero":false},
  "axis":{"orient":"right","title":null,"labelOverlap":false,"tickCount":40,"values":[1330.55,1325.15,1319.75,1314.35,1308.95,1303.55,1298.15,1292.9,1287.5,1282.1,1276.7,1271.3,1265.9,1260.5,1255.25,1249.85],"format":".2f"}}}},
{"data":{"name":"fib"},"mark":{"type":"text","align":"right","baseline":"bottom","dy":-1,"font":"Liberation Sans","fontSize":9.5,"color":"#4682B4"},
 "encoding":{"x":{"datum":242.6,"type":"quantitative","scale":{"domain":[-0.375,242.875],"nice":false,"zero":false},"axis":null},"y":{"field":"p","type":"quantitative"},"text":{"field":"t"}}},
{"data":{"values":[{"p":1279.24}]},"mark":{"type":"rule","color":"#808080","strokeWidth":1},"encoding":{"y":{"field":"p","type":"quantitative"}}},
{"data":{"name":"vlines"},"mark":{"type":"rule","color":"#3CC03C","strokeWidth":1},"encoding":{"x":{"field":"i","type":"quantitative","axis":null}}},
{"data":{"name":"orangeSolid"},"mark":{"type":"rule","color":"#FF8C00","strokeWidth":2.2},"encoding":{"x":{"field":"i","type":"quantitative","axis":null},"y":{"field":"p","type":"quantitative"},"x2":{"field":"i2"},"y2":{"field":"p2"}}},
{"data":{"name":"orangeDash"},"mark":{"type":"rule","color":"#FF8C00","strokeWidth":1,"strokeDash":[3,3]},"encoding":{"x":{"field":"i","type":"quantitative","axis":null},"y":{"field":"p","type":"quantitative"},"x2":{"field":"i2"},"y2":{"field":"p2"}}},
{"data":{"name":"candles"},"mark":{"type":"rule","color":"#000000","strokeWidth":1},"encoding":{"x":{"field":"i","type":"quantitative","axis":null},"y":{"field":"l","type":"quantitative"},"y2":{"field":"h"}}},
{"data":{"name":"candles"},"mark":{"type":"bar","size":2.6,"stroke":"#000000","strokeWidth":0.8},"encoding":{"x":{"field":"i","type":"quantitative","axis":null},"y":{"field":"o","type":"quantitative"},"y2":{"field":"c"},
 "color":{"condition":{"test":"datum.c >= datum.o","value":"#1F3FCF"},"value":"#E0141E"}}},
{"data":{"name":"fast"},"mark":{"type":"line","color":"#1E90FF","strokeWidth":2},"encoding":{"x":{"field":"i","type":"quantitative","axis":null},"y":{"field":"p","type":"quantitative"}}},
{"data":{"name":"slow"},"mark":{"type":"line","color":"#32CD32","strokeWidth":2},"encoding":{"x":{"field":"i","type":"quantitative","axis":null},"y":{"field":"p","type":"quantitative"}}},
{"data":{"name":"navy"},"mark":{"type":"rule","color":"#000080","strokeWidth":2},"encoding":{"x":{"field":"i","type":"quantitative","axis":null},"x2":{"field":"i2"},"y":{"field":"p","type":"quantitative"}}},
{"data":{"name":"slate"},"mark":{"type":"rule","color":"#483D8B","strokeWidth":2},"encoding":{"x":{"field":"i","type":"quantitative","axis":null},"x2":{"field":"i2"},"y":{"field":"p","type":"quantitative"}}},
{"data":{"name":"redUnder"},"mark":{"type":"rule","color":"#DC143C","strokeWidth":2.5},"encoding":{"x":{"field":"i","type":"quantitative","axis":null},"x2":{"field":"i2"},"y":{"field":"p","type":"quantitative"}}},
{"data":{"name":"redThick"},"mark":{"type":"rule","color":"#DC143C","strokeWidth":2.5},"encoding":{"x":{"field":"i","type":"quantitative","axis":null},"y":{"field":"p","type":"quantitative"},"x2":{"field":"i2"},"y2":{"field":"p2"}}},
{"data":{"name":"magenta"},"mark":{"type":"rule","color":"#FF00FF","strokeWidth":1,"strokeDash":[3,3]},"encoding":{"x":{"field":"i","type":"quantitative","axis":null},"y":{"field":"p","type":"quantitative"},"x2":{"field":"i2"},"y2":{"field":"p2"}}},
{"data":{"name":"blackText"},"mark":{"type":"text","align":"left","baseline":"middle","font":"Liberation Serif","fontSize":12.5,"color":"#000000"},"encoding":{"x":{"field":"i","type":"quantitative","axis":null},"y":{"field":"p","type":"quantitative"},"text":{"field":"t"}}},
{"data":{"name":"blueText"},"mark":{"type":"text","align":"left","baseline":"middle","font":"Liberation Serif","fontSize":12.5,"color":"#0000FF"},"encoding":{"x":{"field":"i","type":"quantitative","axis":null},"y":{"field":"p","type":"quantitative"},"text":{"field":"t"}}},
{"data":{"name":"redText"},"mark":{"type":"text","align":"left","baseline":"middle","font":"Liberation Serif","fontSize":12.5,"color":"#DC143C"},"encoding":{"x":{"field":"i","type":"quantitative","axis":null},"y":{"field":"p","type":"quantitative"},"text":{"field":"t"}}},
{"data":{"name":"greenText"},"mark":{"type":"text","align":"left","baseline":"middle","font":"Liberation Serif","fontSize":12.5,"color":"#32CD32"},"encoding":{"x":{"field":"i","type":"quantitative","axis":null},"y":{"field":"p","type":"quantitative"},"text":{"field":"t"}}},
{"data":{"name":"letters"},"mark":{"type":"text","align":"center","baseline":"middle","font":"Liberation Serif","fontSize":12.5,"color":"#32CD32"},"encoding":{"x":{"field":"i","type":"quantitative","axis":null},"y":{"field":"p","type":"quantitative"},"text":{"field":"t"}}},
{"data":{"name":"arrowsDown"},"mark":{"type":"text","text":"⇩","align":"center","baseline":"middle","font":"DejaVu Sans","fontSize":17,"color":"#006400"},"encoding":{"x":{"field":"i","type":"quantitative","axis":null},"y":{"field":"p","type":"quantitative"}}},
{"data":{"name":"arrowsUp"},"mark":{"type":"text","text":"⇧","align":"center","baseline":"middle","font":"DejaVu Sans","fontSize":17,"color":"#006400"},"encoding":{"x":{"field":"i","type":"quantitative","axis":null},"y":{"field":"p","type":"quantitative"}}},
{"data":{"values":[{"t":"XAUUSD,H1  1279.14 1279.44 1278.94 1279.24"}]},"mark":{"type":"text","align":"left","baseline":"middle","font":"Liberation Sans","fontSize":9.5,"color":"#000000"},"encoding":{"x":{"datum":3.6,"type":"quantitative","axis":null},"y":{"datum":1333.0,"type":"quantitative"},"text":{"field":"t"}}},
{"data":{"values":[{"t":"▼"}]},"mark":{"type":"text","align":"center","baseline":"middle","font":"DejaVu Sans","fontSize":7,"color":"#2F4F4F"},"encoding":{"x":{"datum":0.9,"type":"quantitative","axis":null},"y":{"datum":1333.0,"type":"quantitative"},"text":{"field":"t"}}},
{"data":{"values":[{}]},"mark":{"type":"rect","color":"#2F4F4F"},"encoding":{"x":{"datum":243.4,"type":"quantitative","axis":null},"x2":{"datum":253.4},"y":{"datum":1280.31,"type":"quantitative"},"y2":{"datum":1278.35}}},
{"data":{"values":[{"p":1279.24,"t":"1279.24"}]},"mark":{"type":"text","align":"left","baseline":"middle","font":"Liberation Sans","fontSize":9.5,"color":"#FFFFFF"},"encoding":{"x":{"datum":244.0,"type":"quantitative","axis":null},"y":{"field":"p","type":"quantitative"},"text":{"field":"t"}}}
]},
{"width":973,"height":125,
"layer":[
{"data":{"name":"hist"},"mark":{"type":"bar","size":3,"color":"#20B2AA"},
 "encoding":{"x":{"field":"i","type":"quantitative","scale":{"domain":[-0.375,242.875],"nice":false,"zero":false},
   "axis":{"orient":"bottom","title":null,"tickCount":40,"values":[0,16,32,48,64,80,96,112,128,144,160,176,192],"labelAlign":"left","labelPadding":1,"labelOverlap":false,"labelFlush":false,
   "labelExpr":"['3 Oct 2013','4 Oct 15:00','7 Oct 09:00','8 Oct 01:00','8 Oct 17:00','9 Oct 09:00','10 Oct 01:00','10 Oct 17:00','11 Oct 09:00','14 Oct 03:00','14 Oct 19:00','15 Oct 11:00','16 Oct 03:00'][round(datum.value/16)]"}},
  "y":{"field":"v","type":"quantitative","scale":{"domain":[-8.33,3.85],"nice":false,"zero":false},
   "axis":{"orient":"right","title":null,"tickCount":10,"values":[3.6544,0,-8.3259],"labelExpr":"datum.value == 0 ? '0.00' : format(datum.value, '.4f')","labelPadding":3,
   "labelBaseline":{"condition":[{"test":"datum.value > 1","value":"top"},{"test":"datum.value < -1","value":"bottom"}],"value":"middle"}}},
  "y2":{"datum":0}}},
{"data":{"values":[{"v":0}]},"mark":{"type":"rule","color":"#FF8C00","strokeWidth":1.5,"strokeDash":[4,3]},"encoding":{"y":{"field":"v","type":"quantitative"}}},
{"data":{"name":"vlines"},"mark":{"type":"rule","color":"#3CC03C","strokeWidth":1},"encoding":{"x":{"field":"i","type":"quantitative"}}},
{"data":{"name":"macd"},"mark":{"type":"line","color":"#1E90FF","strokeWidth":1},"encoding":{"x":{"field":"i","type":"quantitative"},"y":{"field":"v","type":"quantitative"}}},
{"data":{"name":"signal"},"mark":{"type":"line","color":"#32CD32","strokeWidth":1},"encoding":{"x":{"field":"i","type":"quantitative"},"y":{"field":"v","type":"quantitative"}}},
{"data":{"name":"mRedDash"},"mark":{"type":"rule","color":"#DC143C","strokeWidth":1,"strokeDash":[3,4]},"encoding":{"x":{"field":"i","type":"quantitative"},"y":{"field":"v","type":"quantitative"},"x2":{"field":"i2"},"y2":{"field":"v2"}}},
{"data":{"name":"mRedThick"},"mark":{"type":"rule","color":"#DC143C","strokeWidth":2.5},"encoding":{"x":{"field":"i","type":"quantitative"},"y":{"field":"v","type":"quantitative"},"x2":{"field":"i2"},"y2":{"field":"v2"}}},
{"data":{"name":"mText"},"mark":{"type":"text","align":"left","baseline":"middle","font":"Liberation Serif","fontSize":12.5,"color":"#000000"},"encoding":{"x":{"field":"i","type":"quantitative"},"y":{"field":"v","type":"quantitative"},"text":{"field":"t"}}},
{"data":{"name":"mInfo"},"mark":{"type":"text","align":"left","baseline":"middle","font":"Liberation Sans","fontSize":9.5,"color":"#000000"},"encoding":{"x":{"field":"i","type":"quantitative"},"y":{"field":"v","type":"quantitative"},"text":{"field":"t"}}},
{"data":{"name":"mDown"},"mark":{"type":"text","text":"⇩","align":"center","baseline":"middle","font":"DejaVu Sans","fontSize":17,"color":"#006400"},"encoding":{"x":{"field":"i","type":"quantitative"},"y":{"field":"v","type":"quantitative"}}},
{"data":{"name":"mUp"},"mark":{"type":"text","text":"⇧","align":"center","baseline":"middle","font":"DejaVu Sans","fontSize":17,"color":"#006400"},"encoding":{"x":{"field":"i","type":"quantitative"},"y":{"field":"v","type":"quantitative"}}}
]}
]
}
